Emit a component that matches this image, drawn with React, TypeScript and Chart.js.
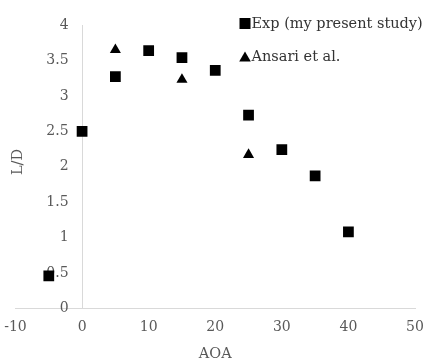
import React, { useEffect, useRef } from "react";
import { Chart, registerables } from "chart.js";

Chart.register(...registerables);

const expLabel = "Exp (my present study)";
const expAOA = [-5, 0, 5, 10, 15, 20, 25, 30, 35, 40];
const expLD = [0.46, 2.5, 3.27, 3.64, 3.54, 3.36, 2.73, 2.24, 1.87, 1.08];

const ansariLabel = "Ansari et al.";
const ansariAOA = [5, 15, 25];
const ansariLD = [3.65, 3.23, 2.17];

const xTicks = [-10, 0, 10, 20, 30, 40, 50];
const yTicks = [0, 0.5, 1, 1.5, 2, 2.5, 3, 3.5, 4];
const xTitle = "AOA";
const yTitle = "L/D";

const FONT = "'DejaVu Serif', serif";
const AXIS_COLOR = "#d9d9d9";
const TEXT_COLOR = "#595959";

const customAxisPlugin = {
  id: "customAxis",
  beforeDatasetsDraw(chart: any) {
    const ctx = chart.ctx;
    const xs = chart.scales.x;
    const ys = chart.scales.y;
    const x0 = xs.getPixelForValue(0);
    ctx.save();
    // y-axis line at x = 0
    ctx.strokeStyle = AXIS_COLOR;
    ctx.lineWidth = 1;
    ctx.beginPath();
    ctx.moveTo(Math.round(x0) + 0.5, ys.getPixelForValue(yTicks[yTicks.length - 1]));
    ctx.lineTo(Math.round(x0) + 0.5, ys.getPixelForValue(yTicks[0]));
    ctx.stroke();
    // y tick labels
    ctx.fillStyle = TEXT_COLOR;
    ctx.font = `14px ${FONT}`;
    ctx.textAlign = "right";
    ctx.textBaseline = "middle";
    for (const v of yTicks) {
      ctx.fillText(String(v), x0 - 13.5, ys.getPixelForValue(v));
    }
    // y title rotated
    ctx.font = `14.5px ${FONT}`;
    ctx.textAlign = "center";
    ctx.translate(18, 162);
    ctx.rotate(-Math.PI / 2);
    ctx.fillText(yTitle, 0, 0);
    ctx.restore();
  },
  afterDraw(chart: any) {
    const ctx = chart.ctx;
    // legend
    ctx.save();
    ctx.font = `14.5px ${FONT}`;
    ctx.textAlign = "left";
    ctx.textBaseline = "middle";
    ctx.fillStyle = "#000";
    const lx = 245;
    const ly1 = 23.5;
    const ly2 = 56.5;
    ctx.fillRect(lx - 5.5, ly1 - 5.5, 11, 11);
    ctx.beginPath();
    ctx.moveTo(lx, ly2 - 5);
    ctx.lineTo(lx + 5.8, ly2 + 5);
    ctx.lineTo(lx - 5.8, ly2 + 5);
    ctx.closePath();
    ctx.fill();
    ctx.fillStyle = "#333";
    ctx.fillText(chart.data.datasets[0].label, 251.5, ly1 + 0.5);
    ctx.fillText(chart.data.datasets[1].label, 251.5, ly2 + 0.5);
    ctx.restore();
  },
};

export default function App() {
  const canvasRef = useRef<HTMLCanvasElement | null>(null);

  useEffect(() => {
    if (!canvasRef.current) return;
    const chart = new Chart(canvasRef.current, {
      type: "scatter",
      data: {
        datasets: [
          {
            label: expLabel,
            data: expAOA.map((x, i) => ({ x, y: expLD[i] })),
            pointStyle: "rect",
            pointRadius: 7.6,
            pointHoverRadius: 7.6,
            backgroundColor: "#000",
            borderColor: "#000",
            borderWidth: 0,
          },
          {
            label: ansariLabel,
            data: ansariAOA.map((x, i) => ({ x, y: ansariLD[i] })),
            pointStyle: "triangle",
            pointRadius: 6.4,
            pointHoverRadius: 6.4,
            backgroundColor: "#000",
            borderColor: "#000",
            borderWidth: 0,
          },
        ],
      },
      options: {
        animation: false,
        responsive: false,
        maintainAspectRatio: false,
        layout: { padding: { left: 15.5, right: 10, top: 25, bottom: 0 } },
        plugins: {
          legend: { display: false },
          tooltip: { enabled: false },
        },
        scales: {
          x: {
            type: "linear",
            min: xTicks[0],
            max: xTicks[xTicks.length - 1],
            afterBuildTicks: (scale: any) => {
              scale.ticks = xTicks.map((v) => ({ value: v }));
            },
            afterFit: (scale: any) => {
              scale.height = 51.5;
              scale.paddingLeft = 0;
              scale.paddingRight = 0;
            },
            grid: { display: false, drawTicks: false, tickLength: 0 },
            border: { display: true, color: AXIS_COLOR, width: 1 },
            ticks: {
              padding: 10,
              color: TEXT_COLOR,
              font: { family: FONT, size: 14 },
              maxRotation: 0,
              autoSkip: false,
            },
            title: {
              display: true,
              text: xTitle,
              color: TEXT_COLOR,
              font: { family: FONT, size: 14.5, lineHeight: 0.85 },
              padding: 0,
            },
          },
          y: {
            type: "linear",
            display: false,
            min: yTicks[0],
            max: yTicks[yTicks.length - 1],
          },
        },
      },
      plugins: [customAxisPlugin],
    });
    return () => chart.destroy();
  }, []);

  return (
    <div style={{ position: "absolute", left: 0, top: 0, width: 425, height: 360, background: "#fff" }}>
      <canvas ref={canvasRef} width={425} height={360} style={{ width: 425, height: 360 }} />
    </div>
  );
}
